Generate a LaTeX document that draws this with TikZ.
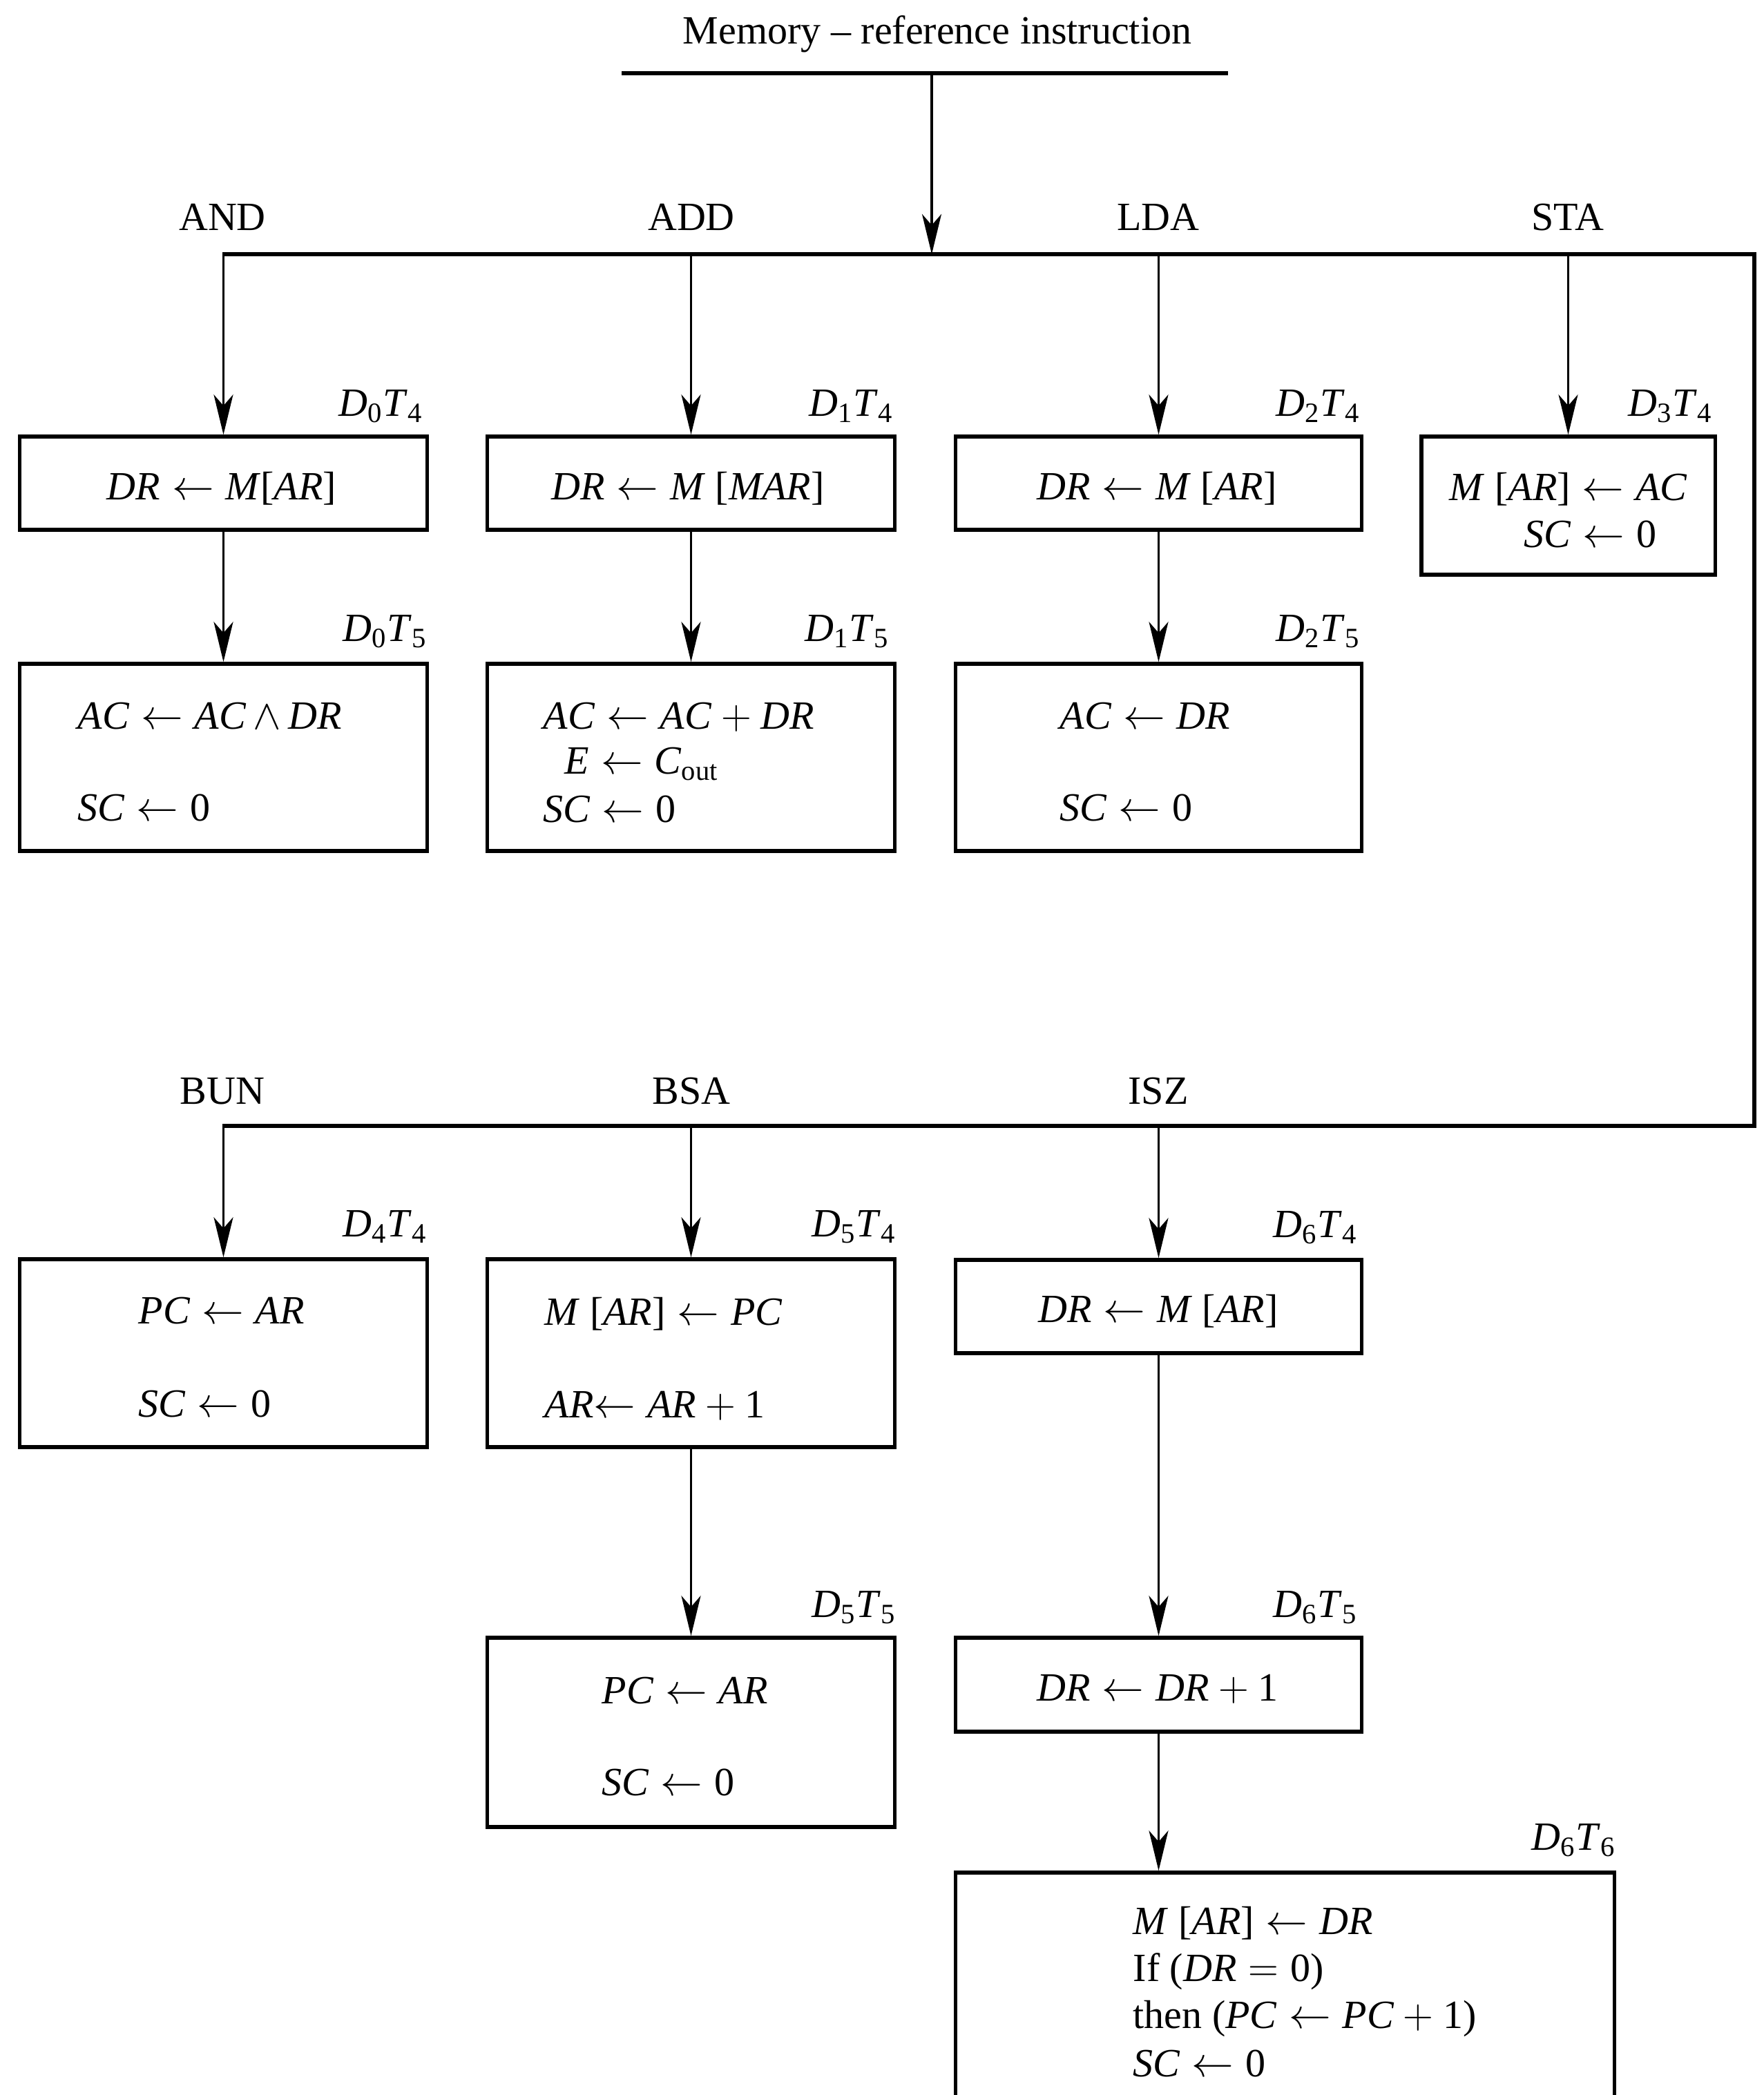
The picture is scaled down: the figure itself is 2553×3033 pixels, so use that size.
\documentclass[tikz,border=0pt]{standalone}
\usepackage{fontspec}
\setmainfont{Liberation Serif}
\usetikzlibrary{arrows.meta,calc}
\newcommand{\ital}[1]{\textit{#1}}
\newcommand{\getsarrow}{\ensuremath{{}\leftarrow{}}}
\begin{document}
\begin{tikzpicture}[x=0.01cm,y=-0.01cm,
  every node/.style={font=\fontsize{16.5}{19}\selectfont, inner sep=0pt},
  box/.style={draw, line width=1.5pt, rectangle, inner sep=0pt},
  arr/.style={line width=1pt, -{Stealth[length=5.8mm,width=2.8mm,inset=1.6mm]}},
  bus/.style={line width=1.6pt, line join=miter},
  txt/.style={anchor=base west},
  ctxt/.style={anchor=base},
  lab/.style={anchor=base east}]

\useasboundingbox (0,0) rectangle (2553,3033);
\fill[white] (0,0) rectangle (2553,3033);

% title and buses
\node[ctxt] (title) at (1357,63) {Memory -- reference instruction};
\coordinate (ulL) at (900,106);
\coordinate (ulR) at (1778,106);
\coordinate (ulM) at (1349,106);
\coordinate (busM) at (1349,368);
\coordinate (busL) at (322,368);
\coordinate (busR) at (2540,368);
\coordinate (busRB) at (2540,1630);
\coordinate (busLB) at (322,1630);
\draw[bus] (ulL) -- (ulR);
\draw[bus] (busL) -- (busR) -- (busRB) -- (busLB);
\draw[arr] (ulM) -- (busM);

% opcode labels
\node[ctxt] (nAND) at (322,333) {AND};
\node[ctxt] (nADD) at (1001,333) {ADD};
\node[ctxt] (nLDA) at (1677,333) {LDA};
\node[ctxt] (nSTA) at (2270,333) {STA};
\node[ctxt] (nBUN) at (322,1598) {BUN};
\node[ctxt] (nBSA) at (1001,1598) {BSA};
\node[ctxt] (nISZ) at (1677,1598) {ISZ};

% boxes
\node[box, minimum width=5.89cm, minimum height=1.35cm] (b1) at (323.5,699.5) {};
\node[box, minimum width=5.89cm, minimum height=1.35cm] (b2) at (1000.5,699.5) {};
\node[box, minimum width=5.87cm, minimum height=1.35cm] (b3) at (1677.5,699.5) {};
\node[box, minimum width=4.25cm, minimum height=2.00cm] (b4) at (2270.5,732) {};
\node[box, minimum width=5.89cm, minimum height=2.71cm] (c1) at (323.5,1096.5) {};
\node[box, minimum width=5.89cm, minimum height=2.71cm] (c2) at (1000.5,1096.5) {};
\node[box, minimum width=5.87cm, minimum height=2.71cm] (c3) at (1677.5,1096.5) {};
\node[box, minimum width=5.89cm, minimum height=2.72cm] (d1) at (323.5,1959) {};
\node[box, minimum width=5.89cm, minimum height=2.72cm] (d2) at (1000.5,1959) {};
\node[box, minimum width=5.87cm, minimum height=1.35cm] (d3) at (1677.5,1891.5) {};
\node[box, minimum width=5.89cm, minimum height=2.74cm] (e2) at (1000.5,2508) {};
\node[box, minimum width=5.87cm, minimum height=1.36cm] (e3) at (1677.5,2439) {};
\node[box, minimum width=9.53cm, minimum height=3.89cm] (f3) at (1860.5,2905.5) {};

% connectors
\draw[arr] (b1.north |- busL) -- (b1.north);
\draw[arr] (b2.north |- busL) -- (b2.north);
\draw[arr] (b3.north |- busL) -- (b3.north);
\draw[arr] (b4.north |- busL) -- (b4.north);
\draw[arr] (b1.south) -- (c1.north);
\draw[arr] (b2.south) -- (c2.north);
\draw[arr] (b3.south) -- (c3.north);
\draw[arr] (d1.north |- busLB) -- (d1.north);
\draw[arr] (d2.north |- busLB) -- (d2.north);
\draw[arr] (d3.north |- busLB) -- (d3.north);
\draw[arr] (d2.south) -- (e2.north);
\draw[arr] (d3.south) -- (e3.north);
\draw[arr] (e3.south) -- (e3.south |- f3.north);

% timing labels
\node[lab] (l1) at ($(b1.north east)+(-8,-27)$) {\ital{D}\textsubscript{0}\ital{T}\textsubscript{4}};
\node[lab] (l2) at ($(b2.north east)+(-4,-27)$) {\ital{D}\textsubscript{1}\ital{T}\textsubscript{4}};
\node[lab] (l3) at ($(b3.north east)+(-4,-27)$) {\ital{D}\textsubscript{2}\ital{T}\textsubscript{4}};
\node[lab] (l4) at ($(b4.north east)+(-6,-27)$) {\ital{D}\textsubscript{3}\ital{T}\textsubscript{4}};
\node[lab] (l5) at ($(c1.north east)+(-2,-30)$) {\ital{D}\textsubscript{0}\ital{T}\textsubscript{5}};
\node[lab] (l6) at ($(c2.north east)+(-10,-30)$) {\ital{D}\textsubscript{1}\ital{T}\textsubscript{5}};
\node[lab] (l7) at ($(c3.north east)+(-4,-30)$) {\ital{D}\textsubscript{2}\ital{T}\textsubscript{5}};
\node[lab] (l8) at ($(d1.north east)+(-2,-30)$) {\ital{D}\textsubscript{4}\ital{T}\textsubscript{4}};
\node[lab] (l9) at ($(d2.north east)+(0,-30)$) {\ital{D}\textsubscript{5}\ital{T}\textsubscript{4}};
\node[lab] (l10) at ($(d3.north east)+(-8,-30)$) {\ital{D}\textsubscript{6}\ital{T}\textsubscript{4}};
\node[lab] (l11) at ($(e2.north east)+(0,-27)$) {\ital{D}\textsubscript{5}\ital{T}\textsubscript{5}};
\node[lab] (l12) at ($(e3.north east)+(-8,-27)$) {\ital{D}\textsubscript{6}\ital{T}\textsubscript{5}};
\node[lab] (l13) at ($(f3.north east)+(0,-30)$) {\ital{D}\textsubscript{6}\ital{T}\textsubscript{6}};

% box texts
\node[ctxt] (t1) at (321,723) {\ital{DR}\getsarrow\ital{M}[\ital{AR}]};
\node[ctxt] (t2) at (996,723) {\ital{DR}\getsarrow\ital{M} [\ital{MAR}]};
\node[ctxt] (t3) at (1675,723) {\ital{DR}\getsarrow\ital{M} [\ital{AR}]};
\node[txt] (t4a) at (2098,724) {\ital{M} [\ital{AR}]\getsarrow\ital{AC}};
\node[txt] (t4b) at (2206,792) {\ital{SC}\getsarrow 0};

\node[txt] (t5a) at (112,1055) {\ital{AC}\getsarrow\ital{AC}$\,\wedge\,$\ital{DR}};
\node[txt] (t5b) at (112,1188) {\ital{SC}\getsarrow 0};
\node[txt] (t6a) at (786,1055) {\ital{AC}\getsarrow\ital{AC}${}+{}$\ital{DR}};
\node[txt] (t6b) at (817,1120) {\ital{E}\getsarrow\ital{C}\textsubscript{out}};
\node[txt] (t6c) at (786,1190) {\ital{SC}\getsarrow 0};
\node[txt] (t7a) at (1534,1055) {\ital{AC}\getsarrow\ital{DR}};
\node[txt] (t7b) at (1534,1188) {\ital{SC}\getsarrow 0};

\node[txt] (t8a) at (200,1916) {\ital{PC}\getsarrow\ital{AR}};
\node[txt] (t8b) at (200,2051) {\ital{SC}\getsarrow 0};
\node[txt] (t9a) at (788,1918) {\ital{M} [\ital{AR}]\getsarrow\ital{PC}};
\node[txt] (t9b) at (788,2052) {\ital{AR}$\leftarrow{}$\ital{AR}${}+{}$1};
\node[ctxt] (t10) at (1677,1914) {\ital{DR}\getsarrow\ital{M} [\ital{AR}]};

\node[txt] (t11a) at (871,2466) {\ital{PC}\getsarrow\ital{AR}};
\node[txt] (t11b) at (871,2599) {\ital{SC}\getsarrow 0};
\node[ctxt] (t12) at (1676,2462) {\ital{DR}\getsarrow\ital{DR}${}+{}$1};

\node[txt] (t13a) at (1640,2800) {\ital{M} [\ital{AR}]\getsarrow\ital{DR}};
\node[txt] (t13b) at (1640,2868) {If (\ital{DR}${}={}$0)};
\node[txt] (t13c) at (1640,2936) {then (\ital{PC}\getsarrow\ital{PC}${}+{}$1)};
\node[txt] (t13d) at (1640,3006) {\ital{SC}\getsarrow 0};
\end{tikzpicture}
\end{document}
